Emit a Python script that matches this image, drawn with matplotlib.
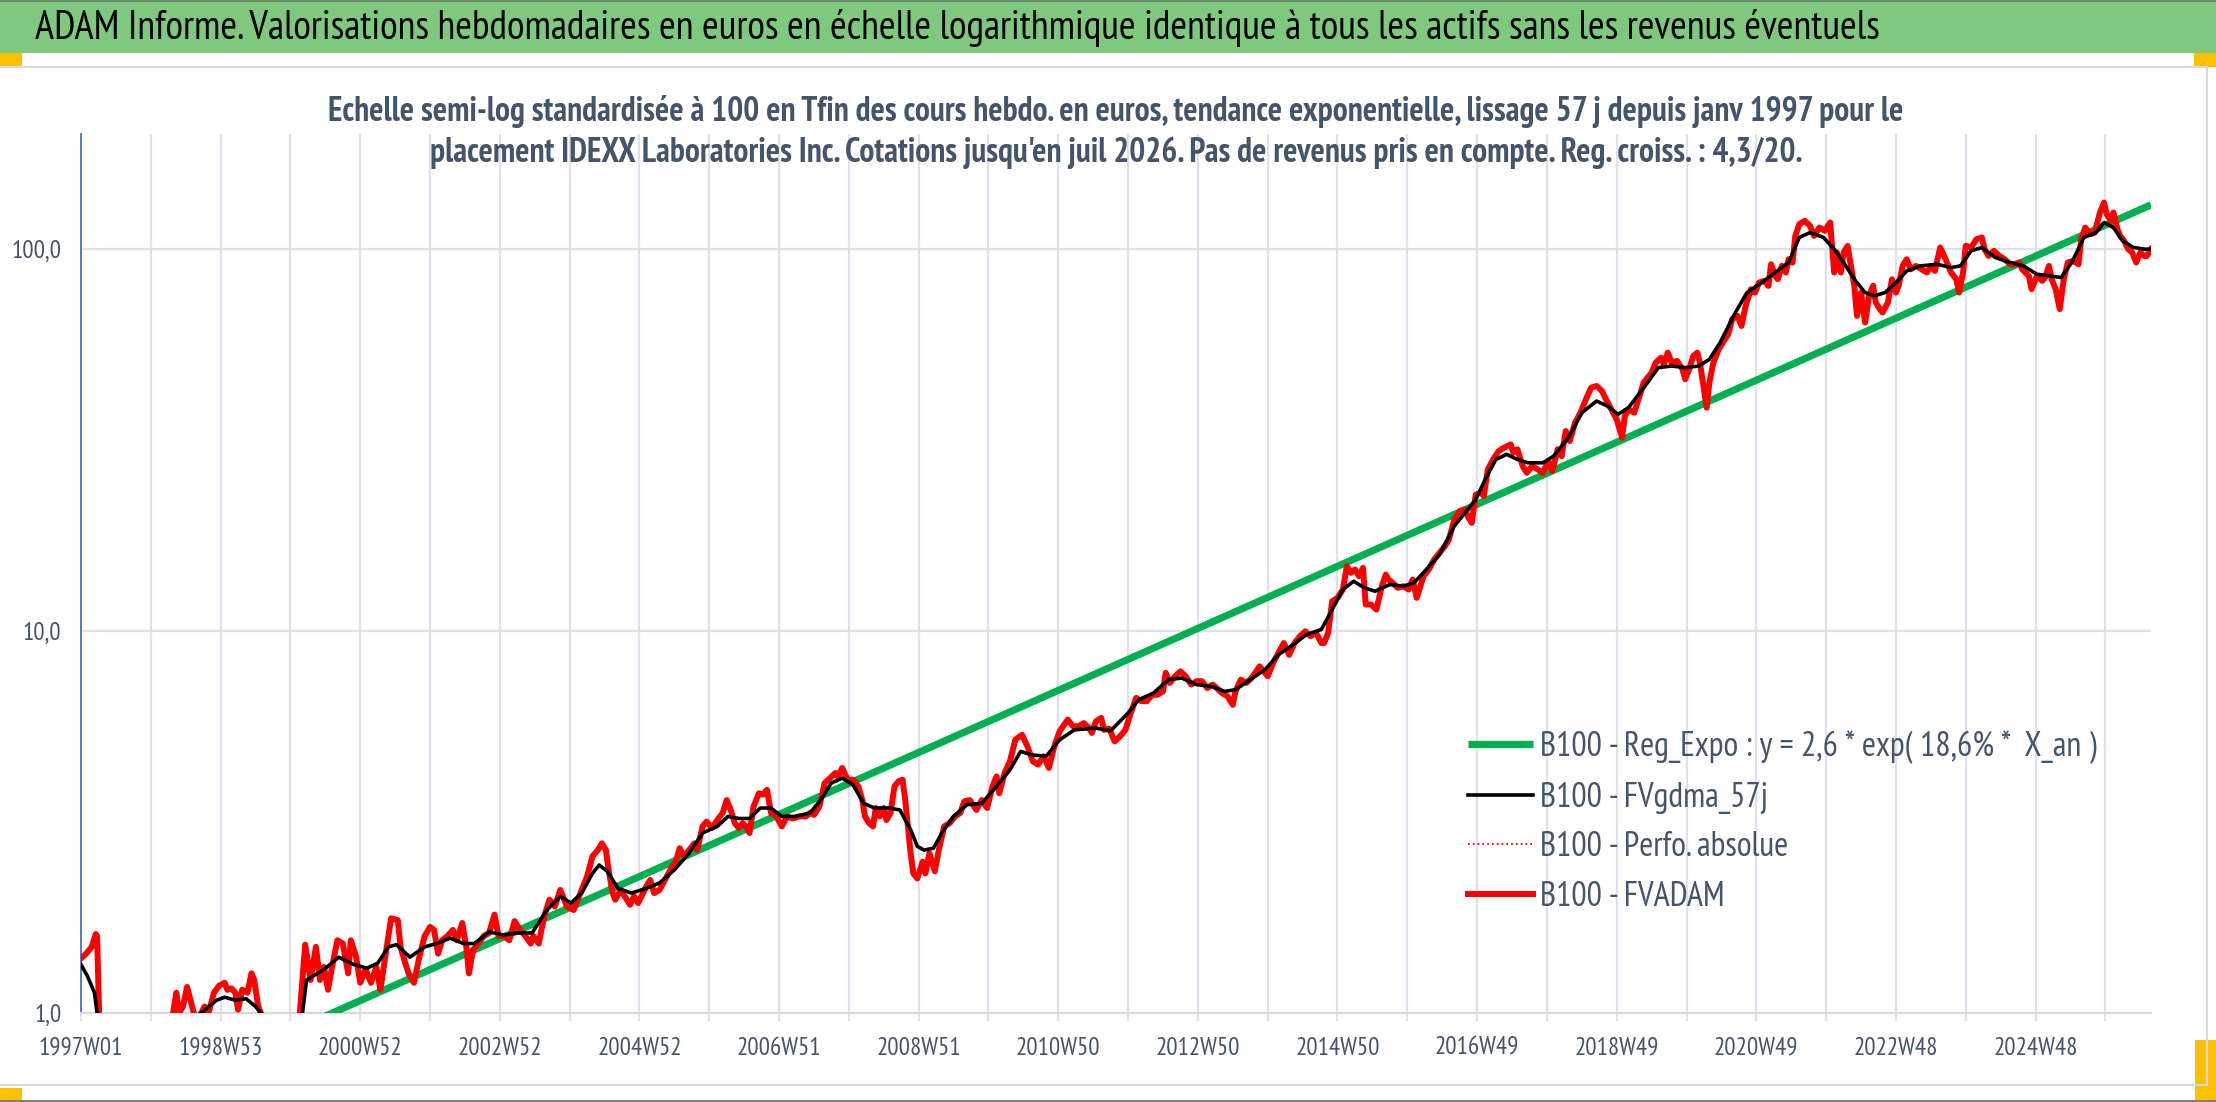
import datetime
import numpy as np
import matplotlib
matplotlib.use('Agg')
import matplotlib.pyplot as plt
from matplotlib.patches import Rectangle
from matplotlib.lines import Line2D

# semaines depuis 1997W01 (index hebdo) et valeurs base 100
red_week = [0, 3, 6, 8, 11, 12, 14, 30, 50, 67, 69, 71, 73, 76, 79, 81, 84, 87, 92, 95, 99, 103, 107, 109, 112, 115, 117, 120, 124, 127, 129, 132, 135, 140, 150, 161,
            163, 167, 171, 175, 178, 181, 184, 187, 191, 195, 199, 201, 205, 208, 212, 216, 220, 223, 227, 231, 236, 238, 241, 244, 248, 252, 256, 260, 263, 266, 269,
            273, 277, 280, 284, 287, 289, 292, 296, 300, 304, 308, 311, 315, 319, 323, 327, 331, 335, 337, 341, 345, 349, 353, 357, 362, 367, 372, 377, 381, 385, 388,
            391, 393, 396, 398, 402, 405, 409, 412, 415, 421, 424, 427, 431, 435, 439, 443, 446, 449, 453, 457, 459, 463, 466, 470, 474, 478, 481, 484, 487, 490, 493,
            495, 498, 501, 505, 508, 511, 514, 518, 522, 526, 530, 535, 540, 543, 546, 550, 554, 558, 562, 564, 567, 571, 575, 579, 582, 584, 587, 590, 592, 595, 598,
            600, 603, 606, 609, 612, 614, 618, 620, 623, 627, 629, 632, 636, 639, 643, 647, 651, 655, 658, 662, 667, 671, 675, 679, 682, 684, 688, 692, 696, 701, 705,
            709, 713, 717, 721, 725, 729, 735, 739, 743, 747, 751, 753, 756, 760, 762, 766, 770, 774, 778, 782, 786, 790, 794, 798, 802, 806, 808, 811, 815, 819, 823,
            827, 831, 835, 839, 843, 846, 850, 854, 858, 860, 864, 868, 872, 878, 880, 884, 888, 892, 896, 900, 904, 908, 912, 916, 920, 924, 926, 929, 932, 936, 940,
            943, 946, 949, 952, 955, 957, 961, 965, 969, 972, 974, 977, 981, 985, 989, 992, 995, 997, 1000, 1004, 1008, 1012, 1016, 1019, 1023, 1027, 1031, 1033, 1036,
            1039, 1043, 1045, 1048, 1052, 1056, 1060, 1065, 1067, 1070, 1074, 1077, 1081, 1085, 1089, 1093, 1096, 1100, 1103, 1106, 1109, 1113, 1117, 1121, 1125, 1129,
            1133, 1136, 1140, 1144, 1148, 1150, 1153, 1157, 1161, 1164, 1170, 1173, 1177, 1179, 1182, 1185, 1189, 1193, 1195, 1198, 1201, 1204, 1206, 1209, 1211, 1213,
            1216, 1220, 1223, 1227, 1230, 1234, 1237, 1240, 1244, 1247, 1250, 1254, 1257, 1259, 1262, 1264, 1267, 1270, 1272, 1275, 1277, 1280, 1284, 1288, 1291, 1295,
            1299, 1303, 1306, 1308, 1311, 1313, 1316, 1318, 1321, 1323, 1326, 1329, 1332, 1335, 1337, 1340, 1342, 1346, 1349, 1352, 1354, 1357, 1360, 1363, 1367, 1371,
            1375, 1378, 1381, 1385, 1389, 1393, 1397, 1399, 1402, 1404, 1408, 1412, 1416, 1418, 1421, 1425, 1429, 1433, 1437, 1440, 1444, 1446, 1451, 1453, 1457, 1461,
            1463, 1466, 1468, 1471, 1474, 1477, 1480, 1484, 1488, 1490, 1493, 1497, 1500, 1504, 1507, 1509, 1512, 1514, 1517, 1519, 1522, 1525, 1528, 1531, 1534, 1537,
            1539, 1542]
red_val = [1.39, 1.42, 1.46, 1.49, 1.61, 1.59, 0.85, 0.78, 0.82, 0.92, 1.02, 1.13, 1.00, 1.04, 1.17, 1.10, 1.00, 0.96, 1.04, 1.00, 1.13, 1.18, 1.20, 1.15, 1.16, 1.13,
           1.02, 1.15, 1.13, 1.27, 1.22, 1.04, 0.98, 0.85, 0.80, 0.90,
           1.00, 1.51, 1.22, 1.49, 1.22, 1.32, 1.15, 1.32, 1.55, 1.52, 1.27, 1.55, 1.40, 1.20, 1.30, 1.20, 1.32, 1.15, 1.43, 1.77, 1.75, 1.49, 1.37, 1.27, 1.20, 1.40,
           1.59, 1.68, 1.65, 1.43, 1.55, 1.59, 1.65, 1.55, 1.72, 1.49, 1.27, 1.46, 1.52, 1.59, 1.62, 1.81, 1.59, 1.59, 1.55, 1.74, 1.65, 1.59, 1.52, 1.59, 1.52, 1.79,
           1.98, 1.90, 2.10, 1.90, 1.86, 2.06, 2.28, 2.57, 2.67, 2.78, 2.67, 2.37, 2.06, 1.98, 2.10, 2.02, 1.92, 2.02, 1.94, 2.14, 2.23, 2.06, 2.10, 2.23, 2.37, 2.49,
           2.70, 2.57, 2.67, 2.78, 2.67, 3.08, 3.17, 3.05, 3.20, 3.34, 3.61, 3.40, 3.14, 3.05, 3.14, 3.08, 2.96, 3.47, 3.76, 3.73, 3.84, 3.34, 3.27, 3.08, 3.27, 3.23,
           3.27, 3.27, 3.34, 3.30, 3.47, 4.00, 4.12, 4.25, 4.16, 4.38, 4.08, 4.08, 3.92, 3.61, 3.27, 3.14, 3.08, 3.44, 3.27, 3.44, 3.20, 3.34, 3.92, 4.04, 4.08, 3.61,
           2.62, 2.32, 2.25, 2.49, 2.32, 2.62, 2.35, 2.67, 3.08, 3.14, 3.27, 3.34, 3.58, 3.61, 3.40, 3.61, 3.44, 3.92, 4.16, 3.76, 4.25, 4.56, 5.19, 5.35, 4.99, 4.56,
           4.47, 4.70, 4.38, 4.99, 5.46, 5.86, 5.63, 5.63, 5.74, 5.57, 5.41, 5.80, 5.92, 5.51, 5.55, 5.14, 5.30, 5.51, 6.10, 6.68, 6.55, 6.55, 6.81, 6.81, 6.95, 7.77,
           7.31, 7.61, 7.84, 7.61, 7.24, 7.39, 7.39, 7.09, 7.24, 7.09, 6.88, 6.75, 6.41, 6.95, 7.46, 7.31, 7.53, 8.08, 7.92, 7.61, 8.25, 8.76, 9.30, 8.66, 9.30, 9.69,
           9.98, 9.69, 9.88, 9.30, 9.30, 9.88, 11.96, 12.21, 12.84, 14.78, 14.20, 14.49, 13.92, 14.63, 11.73, 11.73, 11.38, 13.10, 14.05, 13.64, 13.37, 12.97, 13.10,
           12.84, 13.64, 12.21, 12.84, 13.91, 14.49, 15.38, 16.02, 16.67, 17.36, 19.59, 20.60, 20.80, 19.98, 19.19, 22.77, 23.00, 22.55, 26.49, 28.13, 29.58, 30.18,
           30.80, 29.29, 29.90, 27.02, 25.95, 27.02, 26.49, 25.95, 27.85, 26.22, 29.90, 28.70, 33.38, 31.42, 35.10, 37.27, 40.40, 43.35, 43.79, 42.49, 40.40, 38.04,
           35.81, 32.06, 36.5, 38.04, 37.27, 41.22, 44.67, 47.45, 50.40, 51.94, 49.90, 53.54, 50.40, 50.91, 48.42, 45.60, 48.42, 52.48, 53.54, 50.40, 42.91, 38.42,
           44.67, 50.40, 54.63, 56.87, 59.80, 65.46, 66.79, 62.88, 70.96, 78.46, 76.90, 81.68, 82.51, 80.06, 91.23, 85.04, 83.34, 90.33, 86.77, 94.01, 92.15, 108.2,
           116.1, 118.5, 115.0, 108.2, 113.8, 111.6, 117.3, 86.8, 97.9, 86.8, 97.9, 101.9, 92.2, 80.1, 66.8, 76.9, 64.2, 75.4, 80.1, 72.4, 69.6, 68.2, 72.4, 83.3,
           76.9, 80.1, 90.3, 94.0, 88.5, 90.3, 88.5, 86.8, 90.3, 87.6, 100.9, 94.0, 86.8, 83.3, 76.9, 86.8, 101.9, 100.9, 106.1, 107.2, 99.9, 95.9, 98.9, 95.9, 94.0,
           91.2, 91.2, 92.2, 88.5, 85.0, 78.5, 85.0, 82.5, 84.2, 90.3, 83.3, 78.5, 69.6, 83.3, 92.2, 93.1, 91.2, 106.1, 113.8, 109.3, 110.4, 124.6, 132.3, 123.4,
           118.5, 124.6, 112.7, 108.2, 105.0, 99.9, 97.9, 92.2, 97.9, 95.9, 95.9, 100.0]

black_week = [0, 5, 10, 12, 20, 40, 60, 75, 88, 101, 107, 115, 123, 130, 135, 140, 150, 160, 165, 168, 181, 192, 203, 213, 221, 229, 235, 245, 256, 265, 275, 285,
              293, 304, 315, 325, 336, 347, 357, 365, 373, 381, 386, 392, 400, 410, 421, 431, 442, 453, 463, 474, 482, 490, 498, 506, 514, 522, 532, 543, 551, 559,
              567, 575, 583, 591, 602, 610, 618, 623, 628, 635, 642, 650, 660, 671, 682, 692, 700, 708, 719, 729, 740, 756, 767, 780, 788, 799, 810, 820, 831, 842,
              852, 860, 871, 882, 892, 903, 913, 924, 932, 940, 948, 956, 964, 975, 985, 993, 1001, 1012, 1023, 1031, 1039, 1046, 1054, 1062, 1070, 1078, 1089, 1097,
              1108, 1118, 1129, 1137, 1145, 1153, 1160, 1167, 1175, 1185, 1195, 1205, 1213, 1221, 1231, 1241, 1252, 1262, 1272, 1280, 1288, 1298, 1306, 1313, 1321,
              1329, 1336, 1344, 1352, 1360, 1370, 1383, 1393, 1400, 1408, 1416, 1426, 1437, 1447, 1457, 1467, 1475, 1483, 1492, 1501, 1507, 1514, 1521, 1529, 1537,
              1542]
black_val = [1.34, 1.245, 1.13, 1.0, 0.85, 0.80, 0.85, 0.95, 0.99, 1.08, 1.10, 1.08, 1.09, 1.04, 0.99, 0.90, 0.85, 0.92, 1.0, 1.22, 1.30, 1.40, 1.34, 1.31, 1.35,
             1.49, 1.51, 1.40, 1.49, 1.52, 1.57, 1.52, 1.52, 1.63, 1.60, 1.62, 1.62, 1.86, 2.02, 1.94, 2.06, 2.32, 2.44, 2.35, 2.12, 2.06, 2.12, 2.19, 2.37, 2.62,
             2.96, 3.08, 3.27, 3.23, 3.23, 3.44, 3.44, 3.27, 3.27, 3.34, 3.61, 4.00, 4.12, 3.96, 3.54, 3.44, 3.44, 3.40, 3.02, 2.73, 2.67, 2.70, 2.99, 3.27, 3.51,
             3.54, 3.92, 4.33, 4.84, 4.74, 4.70, 5.19, 5.51, 5.57, 5.48, 6.10, 6.61, 6.88, 7.46, 7.53, 7.24, 7.16, 6.95, 7.02, 7.46, 7.92, 8.67, 9.21, 9.79, 10.09,
             11.38, 12.84, 13.50, 12.97, 12.71, 13.23, 13.10, 13.37, 14.34, 15.86, 18.82, 20.39, 22.10, 24.93, 28.13, 29.00, 28.13, 27.56, 27.56, 28.70, 32.06,
             37.27, 39.99, 38.81, 36.90, 38.5, 41.5, 44.7, 48.9, 49.4, 48.9, 49.4, 51.4, 56.87, 66.79, 76.90, 81.68, 86.77, 92.15, 107.2, 110.4, 107.2, 99.9, 92.2,
             83.3, 76.9, 75.4, 76.9, 81.7, 87.6, 90.3, 91.2, 89.4, 90.3, 98.9, 100.9, 95.0, 92.2, 90.3, 85.9, 85.0, 84.2, 92.2, 107.2, 110.4, 117.3, 113.8, 105.0,
             100.9, 99.9, 99.9]

# tendance exponentielle : droite en semi-log entre ses deux extremites
green_week = [0, 1542]
green_val = [0.51, 130.5]

n_weeks = 1543
ytick_val = [1, 10, 100]
ytick_lab = ['1,0', '10,0', '100,0']

leg_labels = ['B100 - Reg_Expo : y = 2,6 * exp( 18,6% *  X_an )', 'B100 - FVgdma_57j', 'B100 - Perfo. absolue', 'B100 - FVADAM']

# etiquettes ISO semaine, 1997W01 commence le lundi 30/12/1996
start = datetime.date(1996, 12, 30)
xtick_pos = list(range(0, n_weeks, 52))
xtick_lab = []
for k in xtick_pos:
    if k % 104 == 0:
        y, w, _ = (start + datetime.timedelta(days=7 * k)).isocalendar()
        xtick_lab.append('%dW%02d' % (y, w))
    else:
        xtick_lab.append('')

plt.rcParams['font.family'] = ['PT Sans Narrow', 'DejaVu Sans']

W, H = 2216, 1102
fig = plt.figure(figsize=(W / 100, H / 100), dpi=100)
fig.patch.set_facecolor('white')
rend = fig.canvas.get_renderer()


def fit_width(txt, target_px):
    # ajuste la taille de police pour tenir la largeur mesuree sur l'original
    for _ in range(3):
        w = txt.get_window_extent(rend).width
        txt.set_fontsize(txt.get_fontsize() * target_px / w)


# bandeau titre
fig.add_artist(Rectangle((0, 1 - 53 / H), 1, 53 / H, transform=fig.transFigure, facecolor='#7fc97f', edgecolor='none'))
fig.add_artist(Line2D([0, 1], [1 - 1 / H, 1 - 1 / H], transform=fig.transFigure, color='#6a8a6a', lw=1.5))
title = fig.text(35 / W, 1 - 39 / H, "ADAM Informe. Valorisations hebdomadaires en euros en échelle logarithmique identique à tous les actifs sans les revenus éventuels",
                 fontsize=24, color='black', ha='left', va='baseline')

# cadre du graphique
gray = '#d9d9d9'
fig.add_artist(Line2D([0, 2207 / W], [1 - 67 / H, 1 - 67 / H], transform=fig.transFigure, color=gray, lw=1.5))
fig.add_artist(Line2D([2207 / W, 2207 / W], [1 - 67 / H, 1 - 1085 / H], transform=fig.transFigure, color=gray, lw=1.5))
fig.add_artist(Line2D([0, 2207 / W], [1 - 1085 / H, 1 - 1085 / H], transform=fig.transFigure, color=gray, lw=1.5))
fig.add_artist(Line2D([0, 1], [1 / H, 1 / H], transform=fig.transFigure, color='#808080', lw=1.5))
for (x0, y0, w, h) in [(0, 53, 22, 14), (2194, 53, 22, 14), (0, 1088, 22, 12), (2195, 1040, 21, 60)]:
    fig.add_artist(Rectangle((x0 / W, 1 - (y0 + h) / H), w / W, h / H, transform=fig.transFigure, facecolor='#ffc000', edgecolor='none'))

ax = fig.add_axes([81 / W, 1 - 1013 / H, (2151 - 81) / W, (1013 - 134) / H])
ax.set_facecolor('none')

ax.plot(green_week, green_val, color='#00b050', lw=5.2, solid_capstyle='butt', zorder=3, label=leg_labels[0])
ax.plot(black_week, black_val, color='black', lw=2.6, zorder=5, label=leg_labels[1])
ax.plot(red_week, red_val, color='red', lw=1.3, ls=':', zorder=3.5, label=leg_labels[2])
ax.plot(red_week, red_val, color='red', lw=4.3, zorder=4, label=leg_labels[3])

ax.set_yscale('log')
ax.set_ylim(1, 200)
ax.set_xlim(0, n_weeks - 1)
ax.set_yticks(ytick_val)
ax.set_yticklabels(ytick_lab)
ax.yaxis.set_minor_locator(matplotlib.ticker.NullLocator())
ax.set_xticks(xtick_pos)
ax.set_xticklabels(xtick_lab)

grid_col = '#dde3ec'
ax.grid(True, which='major', color=grid_col, lw=1.6, zorder=0)
ax.set_axisbelow(True)
for s in ['top', 'right']:
    ax.spines[s].set_visible(False)
ax.spines['left'].set_color('#4472c4')
ax.spines['left'].set_linewidth(1.3)
ax.spines['bottom'].set_color(gray)
ax.spines['bottom'].set_linewidth(1.6)
ax.tick_params(axis='x', length=6, width=1.6, color=grid_col, pad=11, labelsize=18, labelcolor='#44546a')
ax.tick_params(axis='y', length=0, pad=14, labelsize=18, labelcolor='#44546a')

sub_col = '#44546a'
sub1 = fig.text(1116 / W, 1 - 121 / H, "Echelle semi-log standardisée à 100 en Tfin des cours hebdo. en euros, tendance exponentielle, lissage 57 j depuis janv 1997 pour le",
                fontsize=19, fontweight='bold', color=sub_col, ha='center', va='baseline')
sub2 = fig.text(1116 / W, 1 - 162 / H, "placement IDEXX Laboratories Inc. Cotations jusqu'en juil 2026. Pas de revenus pris en compte. Reg. croiss. : 4,3/20.",
                fontsize=19, fontweight='bold', color=sub_col, ha='center', va='baseline')

fit_width(title, 1845)
fit_width(sub1, 1577)
fit_width(sub2, 1374)

# legende : taille de police calee sur la largeur du premier libelle (555 px)
probe = fig.text(0, 0, leg_labels[0], fontsize=22)
fit_width(probe, 555)
leg_fs = probe.get_fontsize()
probe.remove()
fs_px = leg_fs * 100 / 72

spacing = 0.4
top = 1 - 727 / H
for _ in range(3):
    leg = ax.legend(loc='upper left', bbox_to_anchor=(1468 / W, top), bbox_transform=fig.transFigure, frameon=False, fontsize=leg_fs,
                    handlelength=65 / fs_px, handletextpad=7 / fs_px, labelspacing=spacing, borderpad=0, borderaxespad=0)
    fig.canvas.draw()
    ys = [t.get_window_extent(rend) for t in leg.get_texts()]
    pitch = (ys[0].y0 + ys[0].y1 - ys[3].y0 - ys[3].y1) / 2 / 3
    spacing += (50 - pitch) / fs_px
    c0 = H - (ys[0].y0 + ys[0].y1) / 2
    top += (c0 - 747) / H
for t in leg.get_texts():
    t.set_color('#44546a')

fig.savefig('out.png', dpi=100, facecolor='white')
